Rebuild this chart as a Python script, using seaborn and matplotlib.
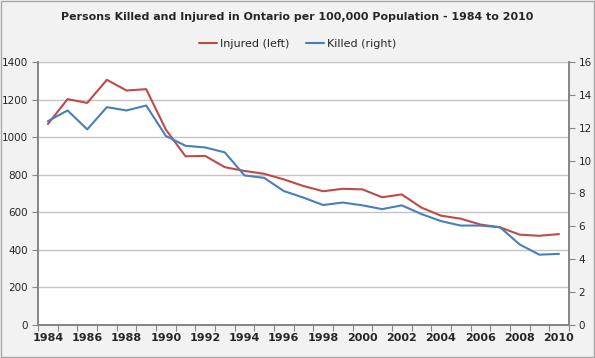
import numpy as np
import pandas as pd
import matplotlib
matplotlib.use("Agg")
import matplotlib.pyplot as plt
from matplotlib.lines import Line2D
from matplotlib.patches import Rectangle
import seaborn as sns

years = list(range(1984, 2011))
injured = [1070, 1202, 1182, 1305, 1248, 1255, 1040, 898, 900, 840, 820, 805, 775,
           740, 712, 725, 722, 680, 695, 625, 582, 566, 535, 520, 481, 475, 484]
killed = [12.4, 13.05, 11.9, 13.25, 13.05, 13.35, 11.5, 10.9, 10.8, 10.5, 9.1, 8.95, 8.15,
          7.75, 7.3, 7.45, 7.28, 7.05, 7.28, 6.75, 6.32, 6.05, 6.05, 5.95, 4.9, 4.28, 4.33]
left_ticks = [0, 200, 400, 600, 800, 1000, 1200, 1400]
right_ticks = [0, 2, 4, 6, 8, 10, 12, 14, 16]

df = pd.DataFrame({"Year": years, "Injured": injured, "Killed": killed})

red = "#BE4B48"
blue = "#4A7EBB"

sns.set_theme(style="white")
plt.rcParams["font.family"] = ["DejaVu Sans"]

fig = plt.figure(figsize=(5.95, 3.58), dpi=100, facecolor="#f2f2f2")
fig.patches.append(Rectangle((0.002, 0.003), 0.996, 0.994, transform=fig.transFigure,
                             fill=False, edgecolor="#a6a6a6", linewidth=1))
ax = fig.add_axes([0.064, 0.092, 0.892, 0.735])
ax.set_facecolor("white")
ax2 = ax.twinx()

sns.lineplot(data=df, x="Year", y="Injured", color=red, linewidth=1.5, ax=ax)
sns.lineplot(data=df, x="Year", y="Killed", color=blue, linewidth=1.5, ax=ax2)

ax.set_ylim(0, 1400)
ax2.set_ylim(0, 16)
ax.set_yticks(left_ticks)
ax2.set_yticks(right_ticks)
ax.set_xlim(1983.5, 2010.5)
ax.set_xticks(years[::2])
ax.set_xticks(np.arange(1983.5, 2011, 1), minor=True)
ax.tick_params(axis="x", which="major", length=0, pad=6, labelsize=8)
ax.tick_params(axis="x", which="minor", length=4, color="#868686", width=0.8, direction="out")
for lbl in ax.get_xticklabels():
    lbl.set_fontweight("bold")
ax.tick_params(axis="y", length=4, color="#868686", width=0.8, direction="out", labelsize=7.5, pad=3)
ax2.tick_params(axis="y", length=4, color="#868686", width=0.8, direction="out", labelsize=7.5, pad=3)
ax.xaxis.set_tick_params(bottom=True, which="minor")
ax.yaxis.set_ticks_position("left")

ax.grid(axis="y", color="#c4c4c4", linewidth=1)
ax.set_axisbelow(True)
ax.set_xlabel("")
ax.set_ylabel("")
ax2.set_ylabel("")

for a in (ax, ax2):
    a.spines["top"].set_visible(False)
    a.spines["left"].set_color("#868686")
    a.spines["right"].set_color("#868686")
    a.spines["bottom"].set_color("#868686")

fig.text(0.5, 0.952, "Persons Killed and Injured in Ontario per 100,000 Population - 1984 to 2010",
         ha="center", va="center", fontsize=7.9, fontweight="bold")

handles = [Line2D([], [], color=red, linewidth=1.5), Line2D([], [], color=blue, linewidth=1.5)]
fig.legend(handles, ["Injured (left)", "Killed (right)"], loc="center", bbox_to_anchor=(0.5, 0.877),
           ncol=2, frameon=False, fontsize=8, handlelength=1.6, handletextpad=0.3, columnspacing=1.5)

plt.savefig("out.png", dpi=100, facecolor=fig.get_facecolor())
